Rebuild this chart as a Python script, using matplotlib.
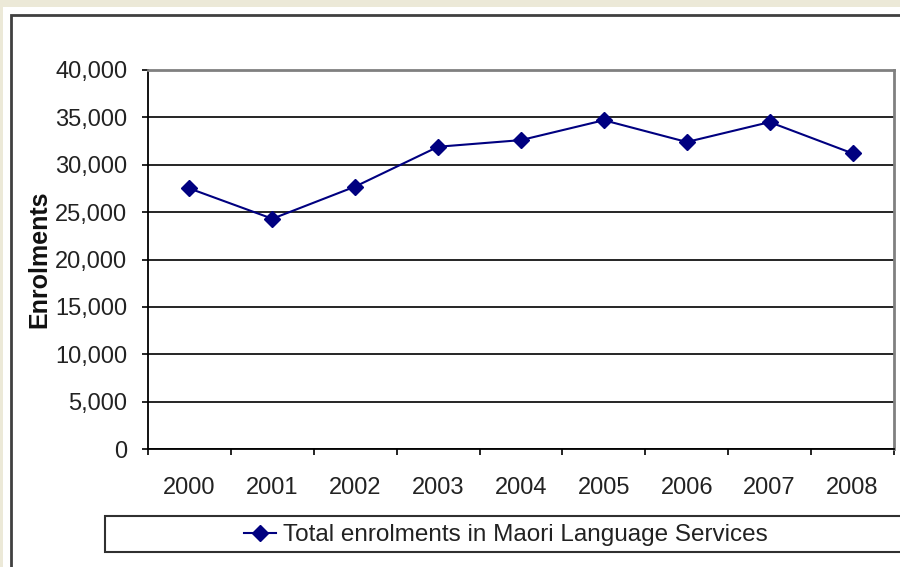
import matplotlib
matplotlib.use("Agg")
import matplotlib.pyplot as plt
from matplotlib.patches import Rectangle
from matplotlib.ticker import FuncFormatter, FixedLocator

years = ["2000", "2001", "2002", "2003", "2004", "2005", "2006", "2007", "2008"]
enrolments = [27500, 24300, 27700, 31900, 32600, 34700, 32400, 34500, 31200]
series_name = "Total enrolments in Maori Language Services"
y_label = "Enrolments"
y_ticks = [0, 5000, 10000, 15000, 20000, 25000, 30000, 35000, 40000]

plt.rcParams['font.family'] = ['Liberation Sans', 'DejaVu Sans']
W, H = 900, 567
fig = plt.figure(figsize=(9, 5.67), dpi=100, facecolor="#ECE9D8")

def fx(px):
    return px / W
def fy(py):
    return 1 - py / H

# white chart area and border
fig.patches.append(Rectangle((fx(3), fy(600)), fx(950), fy(7) - fy(600),
                             transform=fig.transFigure, facecolor="white",
                             edgecolor="none", zorder=-3))
fig.patches.append(Rectangle((fx(11), fy(600)), fx(950), fy(15) - fy(600),
                             transform=fig.transFigure, facecolor="none",
                             edgecolor="#404040", linewidth=2, zorder=-2))
# legend box
fig.patches.append(Rectangle((fx(105), fy(552)), fx(910) - fx(105), fy(516) - fy(552),
                             transform=fig.transFigure, facecolor="white",
                             edgecolor="#303030", linewidth=1.5, zorder=-1))

ax = fig.add_axes([fx(148), fy(449), fx(894) - fx(148), fy(70) - fy(449)])
ax.set_zorder(2)
ax.set_facecolor("white")
x = list(range(len(years)))
line, = ax.plot(x, enrolments, color="#000080", linewidth=1.5, marker="D",
                markersize=8, markerfacecolor="#000080", markeredgecolor="#000080",
                zorder=3, label=series_name)

ax.set_ylim(0, 40000)
ax.set_xlim(-0.5, len(years) - 0.5)
ax.set_yticks(y_ticks)
ax.yaxis.set_major_formatter(FuncFormatter(lambda v, p: f"{int(v):,}"))
ax.grid(axis="y", color="black", linewidth=1.2)
ax.set_axisbelow(True)

ax.xaxis.set_major_locator(FixedLocator([i - 0.5 for i in range(len(years) + 1)]))
ax.xaxis.set_minor_locator(FixedLocator(x))
ax.set_xticklabels([])
ax.set_xticklabels(years, minor=True)
ax.tick_params(axis="x", which="major", direction="out", length=4.5, width=1.2, color="black")
ax.tick_params(axis="x", which="minor", length=0, pad=20, labelsize=17, labelcolor="#222222")
ax.tick_params(axis="y", direction="out", length=4.5, width=1.2, pad=10.5, labelsize=17,
               labelcolor="#222222")

for s in ["left", "bottom"]:
    ax.spines[s].set_color("black")
    ax.spines[s].set_linewidth(1.3)
for s in ["top", "right"]:
    ax.spines[s].set_color("#808080")
    ax.spines[s].set_linewidth(2)

ax.set_ylabel(y_label, fontsize=18, fontweight="bold", color="#111111")
ax.yaxis.set_label_coords((51 - 148) / (894 - 148), 0.5)

fig.legend(handles=[line], labels=[series_name], loc="center",
           bbox_to_anchor=(fx(506), fy(535)), frameon=False, fontsize=17.5,
           handlelength=1.3, handletextpad=0.3, labelcolor="#222222")

fig.savefig("out.png", dpi=100, facecolor=fig.get_facecolor())
